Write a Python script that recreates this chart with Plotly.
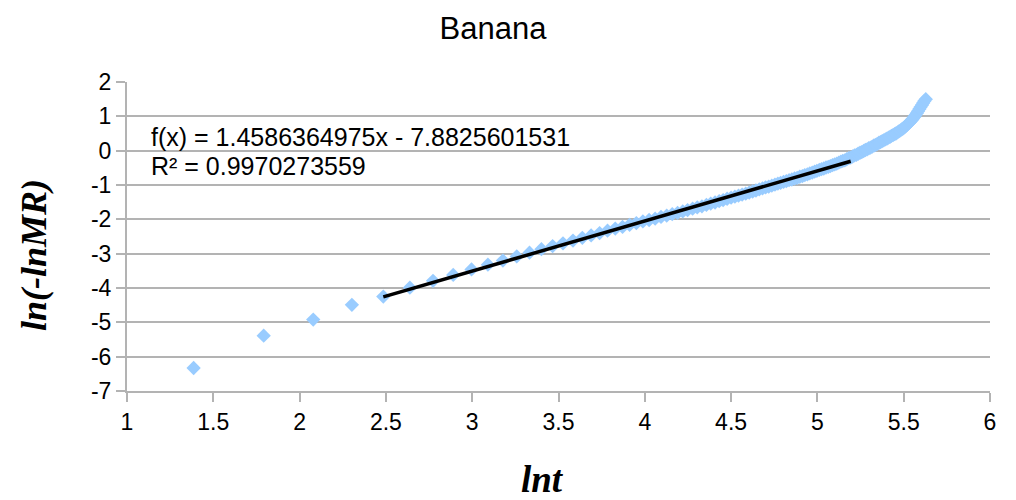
import plotly.graph_objects as go

# ln t values (t = 4, 6, ..., 278)
ln_t = [1.386, 1.792, 2.079, 2.303, 2.485, 2.639, 2.773, 2.890, 2.996, 3.091,
        3.178, 3.258, 3.332, 3.401, 3.466, 3.526, 3.584, 3.638, 3.689, 3.738,
        3.784, 3.829, 3.871, 3.912, 3.951, 3.989, 4.025, 4.060, 4.094, 4.127,
        4.159, 4.190, 4.220, 4.248, 4.277, 4.304, 4.331, 4.357, 4.382, 4.407,
        4.431, 4.454, 4.477, 4.500, 4.522, 4.543, 4.564, 4.585, 4.605, 4.625,
        4.644, 4.663, 4.682, 4.700, 4.718, 4.736, 4.754, 4.771, 4.787, 4.804,
        4.820, 4.836, 4.852, 4.868, 4.883, 4.898, 4.913, 4.927, 4.942, 4.956,
        4.970, 4.984, 4.997, 5.011, 5.024, 5.037, 5.050, 5.063, 5.075, 5.088,
        5.100, 5.112, 5.124, 5.136, 5.147, 5.159, 5.170, 5.182, 5.193, 5.204,
        5.215, 5.226, 5.236, 5.247, 5.257, 5.268, 5.278, 5.288, 5.298, 5.308,
        5.318, 5.328, 5.338, 5.347, 5.357, 5.366, 5.375, 5.384, 5.394, 5.403,
        5.412, 5.421, 5.429, 5.438, 5.447, 5.455, 5.464, 5.472, 5.481, 5.489,
        5.497, 5.505, 5.513, 5.521, 5.529, 5.537, 5.545, 5.553, 5.561, 5.568,
        5.576, 5.583, 5.591, 5.598, 5.606, 5.613, 5.620, 5.628]

ln_neg_ln_mr = [-6.33, -5.39, -4.92, -4.49, -4.25, -3.99, -3.79, -3.62, -3.46, -3.32,
                -3.20, -3.08, -2.97, -2.87, -2.78, -2.70, -2.62, -2.54, -2.47, -2.40,
                -2.33, -2.27, -2.22, -2.16, -2.11, -2.06, -2.02, -1.98, -1.93, -1.89,
                -1.85, -1.81, -1.77, -1.73, -1.69, -1.65, -1.62, -1.58, -1.54, -1.51,
                -1.47, -1.44, -1.40, -1.37, -1.34, -1.31, -1.28, -1.25, -1.22, -1.19,
                -1.16, -1.13, -1.10, -1.07, -1.05, -1.02, -0.99, -0.96, -0.94, -0.91,
                -0.89, -0.86, -0.84, -0.81, -0.79, -0.76, -0.74, -0.71, -0.69, -0.66,
                -0.64, -0.61, -0.59, -0.56, -0.54, -0.52, -0.49, -0.47, -0.45, -0.42,
                -0.40, -0.38, -0.35, -0.32, -0.30, -0.28, -0.25, -0.22, -0.20, -0.17,
                -0.14, -0.12, -0.09, -0.06, -0.04, -0.01, 0.02, 0.04, 0.07, 0.09,
                0.12, 0.15, 0.17, 0.20, 0.23, 0.25, 0.28, 0.30, 0.33, 0.35,
                0.38, 0.40, 0.43, 0.45, 0.48, 0.50, 0.53, 0.56, 0.59, 0.62,
                0.65, 0.68, 0.72, 0.76, 0.80, 0.84, 0.88, 0.93, 0.98, 1.03,
                1.09, 1.15, 1.21, 1.27, 1.33, 1.39, 1.45, 1.50]

slope = 1.4586364975
intercept = -7.8825601531
r_squared = 0.9970273559
trend_x = [2.485, 5.193]
trend_y = [slope * v + intercept for v in trend_x]

x_ticks = [1, 1.5, 2, 2.5, 3, 3.5, 4, 4.5, 5, 5.5, 6]
y_ticks = [2, 1, 0, -1, -2, -3, -4, -5, -6, -7]

# plot-area pixel geometry (screen coordinates) used to place annotations
PL, PR, PT, PB = 127, 990, 82, 391


def px(x):
    return (x - PL) / (PR - PL)


def py(y):
    return (PB - y) / (PB - PT)


fig = go.Figure()
fig.add_trace(go.Scatter(
    x=ln_t, y=ln_neg_ln_mr, mode="markers",
    marker=dict(symbol="diamond", size=11, color="#99ccff", line=dict(width=0)),
    showlegend=False))
fig.add_trace(go.Scatter(
    x=trend_x, y=trend_y, mode="lines",
    line=dict(color="#000000", width=3.5), showlegend=False))

fig.update_layout(
    width=1000, height=492,
    margin=dict(l=119, r=18, t=74, b=109),
    paper_bgcolor="white", plot_bgcolor="white",
    font=dict(family="Liberation Sans", size=23, color="#000000"),
    title=dict(text="Banana", x=0.485, xanchor="center", y=0.96, yanchor="middle",
               font=dict(family="Liberation Sans", size=31, color="#000000")),
    xaxis=dict(range=[1, 6], tickvals=x_ticks, ticktext=[f"{v:g}" for v in x_ticks],
               showgrid=False, zeroline=False, showline=True, linecolor="#b3b3b3",
               linewidth=2, ticks="outside", ticklen=9, tickcolor="#b3b3b3",
               tickwidth=2, tickfont=dict(size=23)),
    yaxis=dict(range=[-7, 2], tickvals=y_ticks, ticktext=[f"{v:g}" for v in y_ticks],
               showgrid=True, gridcolor="#b3b3b3", gridwidth=1.5, zeroline=False,
               showline=True, linecolor="#b3b3b3", linewidth=2, ticks="outside",
               ticklen=9, tickcolor="#b3b3b3", tickwidth=2, tickfont=dict(size=23)),
    annotations=[
        dict(text=f"f(x) = {slope:.10f}x - {abs(intercept):.10f}", xref="paper", yref="paper",
             x=px(149), y=py(137), xanchor="left", yanchor="middle",
             showarrow=False, font=dict(size=25)),
        dict(text=f"R² = {r_squared:.10f}", xref="paper", yref="paper",
             x=px(149), y=py(166), xanchor="left", yanchor="middle",
             showarrow=False, font=dict(size=25)),
        dict(text="<b><i>lnt</i></b>", xref="paper", yref="paper",
             x=px(542), y=py(479), xanchor="center", yanchor="middle",
             showarrow=False, font=dict(family="Liberation Serif", size=37)),
        dict(text="<b><i>ln(-lnMR)</i></b>", xref="paper", yref="paper",
             x=px(34), y=py(255), xanchor="center", yanchor="middle",
             textangle=-90, showarrow=False, font=dict(family="Liberation Serif", size=36)),
    ],
)

fig.write_html("out.html")
